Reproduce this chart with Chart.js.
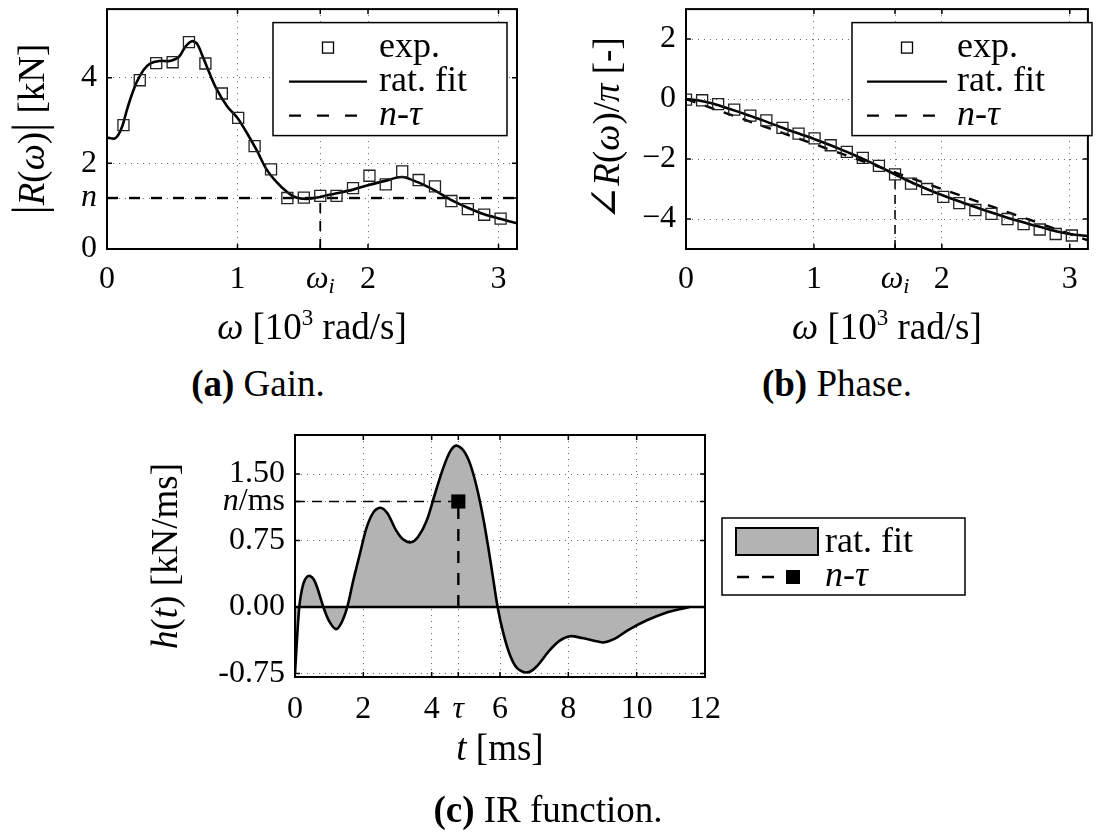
<!DOCTYPE html>
<html lang="en">
<head>
<meta charset="UTF-8">
<title>Gain, phase and IR function</title>
<script src="https://cdn.jsdelivr.net/npm/chart.js@4.4.0/dist/chart.umd.min.js"></script>
<style>
  html, body { margin: 0; padding: 0; background: #fff; }
  body { position: relative; width: 1097px; height: 833px; overflow: hidden; font-family: "Liberation Serif", "Times New Roman", serif; }
  canvas { position: absolute; }
  .cap { position: absolute; font-size: 37px; line-height: 1; white-space: nowrap; transform: translateX(-50%); color: #000; }
</style>
</head>
<body>
<canvas id="gain" width="560" height="350" style="left:0;top:0"></canvas>
<canvas id="phase" width="537" height="350" style="left:560px;top:0"></canvas>
<canvas id="ir" width="900" height="380" style="left:100px;top:420px"></canvas>
<div class="cap" style="left:258px;top:365px"><b>(a)</b> Gain.</div>
<div class="cap" style="left:837px;top:365px"><b>(b)</b> Phase.</div>
<div class="cap" style="left:548px;top:791px"><b>(c)</b> IR function.</div>

<script>
// n-tau model parameters
const omegaI = 1.634;   // 10^3 rad/s
const nGain = 1.19;     // kN
const tau = 4.78;       // ms
const omegaMax = 3.1416;

// measured frequency response
const expOmegaGain = [0.126, 0.251, 0.377, 0.503, 0.628, 0.754, 0.880, 1.005, 1.131, 1.257, 1.382, 1.508,
                      1.634, 1.759, 1.885, 2.011, 2.136, 2.262, 2.388, 2.513, 2.639, 2.765, 2.890, 3.016];
const expGain = [2.89, 3.94, 4.34, 4.36, 4.83, 4.33, 3.63, 3.06, 2.40, 1.86, 1.19, 1.20,
                 1.24, 1.24, 1.42, 1.71, 1.51, 1.81, 1.61, 1.46, 1.12, 0.93, 0.80, 0.71];
const expOmegaPhase = [0, 0.126, 0.251, 0.377, 0.503, 0.628, 0.754, 0.880, 1.005, 1.131, 1.257, 1.382, 1.508,
                       1.634, 1.759, 1.885, 2.011, 2.136, 2.262, 2.388, 2.513, 2.639, 2.765, 2.890, 3.016];
const expPhase = [-0.02, -0.04, -0.17, -0.35, -0.55, -0.71, -0.96, -1.15, -1.31, -1.54, -1.76, -1.96, -2.23,
                  -2.51, -2.82, -3.00, -3.26, -3.47, -3.70, -3.83, -4.00, -4.17, -4.35, -4.50, -4.55];

// rational fit
const fitOmegaGain = [0, 0.06, 0.09, 0.12, 0.15, 0.19, 0.23, 0.28, 0.33, 0.40, 0.48, 0.55, 0.60, 0.65, 0.69, 0.73,
                      0.77, 0.83, 0.92, 1.00, 1.07, 1.15, 1.22, 1.30, 1.38, 1.45, 1.53, 1.61, 1.71, 1.76, 1.88,
                      2.00, 2.13, 2.26, 2.38, 2.51, 2.64, 2.76, 2.89, 3.02, 3.1416];
const fitGain = [2.60, 2.58, 2.68, 2.89, 3.22, 3.60, 3.91, 4.18, 4.33, 4.39, 4.39, 4.48, 4.72, 4.85, 4.79, 4.52,
                 4.22, 3.79, 3.33, 3.06, 2.72, 2.29, 1.87, 1.56, 1.33, 1.20, 1.17, 1.20, 1.27, 1.30, 1.38,
                 1.49, 1.59, 1.68, 1.56, 1.37, 1.14, 0.97, 0.81, 0.70, 0.60];
const fitOmegaPhase = [0, 0.1, 0.2, 0.3, 0.4, 0.5, 0.6, 0.7, 0.8, 0.9, 1.0, 1.1, 1.2, 1.3, 1.4, 1.5, 1.6,
                       1.7, 1.8, 1.9, 2.0, 2.1, 2.2, 2.3, 2.4, 2.5, 2.6, 2.7, 2.8, 2.9, 3.0, 3.1416];
const fitPhase = [0, -0.05, -0.14, -0.27, -0.41, -0.56, -0.71, -0.87, -1.03, -1.18, -1.33, -1.49, -1.66, -1.84,
                  -2.03, -2.23, -2.44, -2.65, -2.85, -3.03, -3.20, -3.36, -3.51, -3.66, -3.80, -3.94, -4.07,
                  -4.19, -4.30, -4.42, -4.50, -4.57];
const ntauOmegaPhase = [0, 3.1416];
const ntauPhase = [0, -4.71];

// impulse response of the rational fit
const irTime = [0, 0.05, 0.10, 0.15, 0.25, 0.35, 0.44, 0.55, 0.65, 0.83, 1.00, 1.20, 1.37, 1.53, 1.70, 1.90,
                2.10, 2.30, 2.49, 2.70, 2.95, 3.17, 3.39, 3.60, 3.85, 4.10, 4.35, 4.55, 4.72, 4.92, 5.12, 5.32,
                5.52, 5.72, 5.93, 6.10, 6.30, 6.50, 6.78, 7.05, 7.45, 7.75, 8.05, 8.40, 8.75, 9.02, 9.35, 9.75,
                10.30, 10.90, 11.25, 11.55];
const irFit = [-0.75, -0.42, -0.12, 0.08, 0.27, 0.34, 0.35, 0.31, 0.22, 0.00, -0.16, -0.25, -0.17, 0.00, 0.29, 0.60,
               0.90, 1.07, 1.12, 1.06, 0.87, 0.76, 0.73, 0.79, 0.97, 1.28, 1.58, 1.76, 1.82, 1.77, 1.62, 1.35,
               0.98, 0.52, 0.00, -0.30, -0.55, -0.69, -0.74, -0.68, -0.49, -0.38, -0.33, -0.35, -0.38, -0.40, -0.36, -0.26,
               -0.15, -0.06, -0.025, 0];

// tick values
const gainXTicks = [0, 1, omegaI, 2, 3];
const gainYTicks = [0, nGain, 2, 4];
const phaseXTicks = [0, 1, omegaI, 2, 3];
const phaseYTicks = [-4, -2, 0, 2];
const irXTicks = [0, 2, 4, tau, 6, 8, 10, 12];
const irYTicks = [-0.75, 0, 0.75, nGain, 1.5];

const SERIF = '"Liberation Serif", "Times New Roman", serif';
const TICK = 32, TITLE = 37, LEG = 36;
const f = (size, style) => (style ? style + ' ' : '') + size + 'px ' + SERIF;
const pts = (xs, ys) => xs.map((x, i) => ({ x: x, y: ys[i] }));

function drawRich(ctx, runs, x, y, align) {
  let w = 0;
  runs.forEach(r => { ctx.font = r.f; w += ctx.measureText(r.t).width; });
  let cx = align === 'center' ? x - w / 2 : align === 'right' ? x - w : x;
  ctx.textAlign = 'left';
  runs.forEach(r => {
    ctx.font = r.f;
    ctx.fillText(r.t, cx, y + (r.dy || 0));
    cx += ctx.measureText(r.t).width;
  });
}

function drawLegend(ctx, L) {
  ctx.fillStyle = '#fff';
  ctx.fillRect(L.x, L.y, L.w, L.h);
  ctx.strokeStyle = '#000';
  ctx.lineWidth = 1.5;
  ctx.setLineDash([]);
  ctx.strokeRect(L.x, L.y, L.w, L.h);
  L.items.forEach((it, i) => {
    const cy = L.y + L.rows[i];
    const s = it.sample || L.sample;
    const x0 = L.x + s[0], x1 = L.x + s[1], xm = (x0 + x1) / 2;
    ctx.save();
    ctx.strokeStyle = '#000';
    ctx.fillStyle = '#000';
    if (it.kind === 'square') {
      ctx.lineWidth = 1.3;
      ctx.strokeRect(xm - 5.5, cy - 5.5, 11, 11);
    } else if (it.kind === 'line' || it.kind === 'dash') {
      ctx.lineWidth = 2.4;
      ctx.setLineDash(it.kind === 'dash' ? [12, 16] : []);
      ctx.beginPath(); ctx.moveTo(x0, cy); ctx.lineTo(x1, cy); ctx.stroke();
    } else if (it.kind === 'patch') {
      ctx.fillStyle = '#b3b3b3';
      ctx.fillRect(x0, cy - 15, x1 - x0, 27);
      ctx.lineWidth = 2;
      ctx.strokeRect(x0, cy - 15, x1 - x0, 27);
    } else if (it.kind === 'dashsq') {
      ctx.lineWidth = 2.4;
      ctx.setLineDash([12, 13]);
      ctx.beginPath(); ctx.moveTo(x0, cy); ctx.lineTo(x1 - 24, cy); ctx.stroke();
      ctx.setLineDash([]);
      ctx.fillRect(x1 - 14, cy - 7, 14, 14);
    }
    ctx.restore();
    ctx.fillStyle = '#000';
    ctx.textBaseline = 'middle';
    drawRich(ctx, it.runs, L.x + L.text, cy, 'left');
  });
}

// box, inner tick marks, math labels, titles, legend
function decor(o) {
  return {
    id: 'decor',
    afterDraw(chart) {
      const { ctx, chartArea: a, scales: { x, y } } = chart;
      ctx.save();
      ctx.setLineDash([]);
      ctx.strokeStyle = '#000';
      ctx.lineWidth = 1.5;
      ctx.beginPath();
      x.ticks.forEach(t => {
        const p = x.getPixelForValue(t.value);
        ctx.moveTo(p, a.bottom); ctx.lineTo(p, a.bottom - 5);
        ctx.moveTo(p, a.top); ctx.lineTo(p, a.top + 5);
      });
      y.ticks.forEach(t => {
        const p = y.getPixelForValue(t.value);
        ctx.moveTo(a.left, p); ctx.lineTo(a.left + 5, p);
        ctx.moveTo(a.right, p); ctx.lineTo(a.right - 5, p);
      });
      ctx.stroke();
      ctx.lineWidth = 2;
      ctx.strokeRect(a.left, a.top, a.right - a.left, a.bottom - a.top);

      ctx.fillStyle = '#000';
      ctx.textBaseline = 'middle';
      const xp = x.options.ticks.padding, yp = y.options.ticks.padding;
      (o.xSpecial || []).forEach(s => drawRich(ctx, s.runs, x.getPixelForValue(s.value), x.top + xp + TICK * 0.6, 'center'));
      (o.ySpecial || []).forEach(s => drawRich(ctx, s.runs, y.right - yp, y.getPixelForValue(s.value), 'right'));

      ctx.textBaseline = 'alphabetic';
      drawRich(ctx, o.xTitle, (a.left + a.right) / 2, o.xTitleY, 'center');
      ctx.save();
      ctx.translate(o.yTitleX, (a.top + a.bottom) / 2);
      ctx.rotate(-Math.PI / 2);
      drawRich(ctx, o.yTitle, 0, 12, 'center');
      ctx.restore();

      if (o.legend) drawLegend(ctx, o.legend);
      ctx.restore();
    }
  };
}

function axis(min, max, ticks, fmt, size, isX, pad) {
  return {
    type: 'linear', min: min, max: max,
    afterBuildTicks: s => { s.ticks = ticks.map(v => ({ value: v })); },
    afterFit: s => {
      if (isX) s.height = size; else s.width = size;
      s.paddingTop = s.paddingBottom = s.paddingLeft = s.paddingRight = 0;
    },
    grid: { color: '#6a6a6a', lineWidth: 1, drawTicks: false },
    border: { display: false, dash: [1, 5] },
    ticks: { autoSkip: false, maxRotation: 0, padding: pad, color: '#000', font: { family: SERIF, size: TICK }, callback: fmt }
  };
}

function lineSet(label, data, width, dash, extra) {
  return Object.assign({
    type: 'line', label: label, data: data, showLine: true, borderColor: '#000', borderWidth: width,
    borderDash: dash, pointRadius: 0, pointHoverRadius: 0, fill: false, tension: 0
  }, extra || {});
}

function baseOptions(padding, scales) {
  return {
    responsive: false, animation: false, events: [],
    layout: { padding: padding },
    plugins: { legend: { display: false }, tooltip: { enabled: false } },
    scales: scales
  };
}

const omegaRuns = [{ t: 'ω', f: f(TICK, 'italic') }, { t: 'i', f: f(22, 'italic'), dy: 8 }];
const omegaTitle = [{ t: 'ω', f: f(TITLE, 'italic') }, { t: ' [10', f: f(TITLE) }, { t: '3', f: f(23), dy: -14 }, { t: ' rad/s]', f: f(TITLE) }];
const ntauRuns = [{ t: 'n', f: f(LEG, 'italic') }, { t: '-', f: f(LEG) }, { t: 'τ', f: f(LEG, 'italic') }];
const minus = v => (v < 0 ? '\u2212' + (-v) : String(v));

// (a) gain
new Chart(document.getElementById('gain'), {
  type: 'scatter',
  data: { datasets: [
    { label: 'exp.', data: pts(expOmegaGain, expGain), pointStyle: 'rect', pointRadius: 7.8,
      borderColor: '#222', borderWidth: 1.3, backgroundColor: 'rgba(0,0,0,0)' },
    lineSet('rat. fit', pts(fitOmegaGain, fitGain), 2.6, [], { tension: 0.3 }),
    lineSet('n-τ', pts([0, omegaMax], [nGain, nGain]), 2.4, [11, 11]),
    lineSet('ωi', pts([omegaI, omegaI], [0, nGain]), 1.8, [10, 8])
  ] },
  options: baseOptions({ top: 7, right: 43, left: 0, bottom: 0 }, {
    x: axis(0, omegaMax, gainXTicks, v => (v === omegaI ? '' : String(v)), 101, true, 11),
    y: axis(0, 5.6, gainYTicks, v => (v === nGain ? '' : String(v)), 107, false, 10)
  }),
  plugins: [decor({
    xSpecial: [{ value: omegaI, runs: omegaRuns }],
    ySpecial: [{ value: nGain, runs: [{ t: 'n', f: f(TICK, 'italic') }] }],
    xTitle: omegaTitle, xTitleY: 339,
    yTitleX: 32,
    yTitle: [{ t: '|', f: f(46) }, { t: 'R', f: f(TITLE, 'italic') }, { t: '(', f: f(TITLE) }, { t: 'ω', f: f(TITLE, 'italic') },
             { t: ')', f: f(TITLE) }, { t: '|', f: f(46) }, { t: ' [kN]', f: f(TITLE) }],
    legend: { x: 273, y: 22.6, w: 234, h: 113, rows: [25, 59, 93], sample: [16, 94], text: 106, items: [
      { kind: 'square', runs: [{ t: 'exp.', f: f(LEG) }] },
      { kind: 'line', runs: [{ t: 'rat. fit', f: f(LEG) }] },
      { kind: 'dash', sample: [16, 84], runs: ntauRuns }
    ] }
  })]
});

// (b) phase
new Chart(document.getElementById('phase'), {
  type: 'scatter',
  data: { datasets: [
    { label: 'exp.', data: pts(expOmegaPhase, expPhase), pointStyle: 'rect', pointRadius: 7.8,
      borderColor: '#222', borderWidth: 1.3, backgroundColor: 'rgba(0,0,0,0)' },
    lineSet('rat. fit', pts(fitOmegaPhase, fitPhase), 2.6, [], { tension: 0.3 }),
    lineSet('n-τ', pts(ntauOmegaPhase, ntauPhase), 2.4, [10, 10]),
    lineSet('ωi', pts([omegaI, omegaI], [-5, -2.51]), 1.5, [9, 6])
  ] },
  options: baseOptions({ top: 7, right: 2, left: 0, bottom: 0 }, {
    x: axis(0, omegaMax, phaseXTicks, v => (v === omegaI ? '' : String(v)), 101, true, 11),
    y: axis(-5, 3, phaseYTicks, minus, 126, false, 10)
  }),
  plugins: [decor({
    xSpecial: [{ value: omegaI, runs: omegaRuns }],
    xTitle: omegaTitle, xTitleY: 339,
    yTitleX: 47,
    yTitle: [{ t: '∠', f: '42px "DejaVu Serif", serif' }, { t: 'R', f: f(TITLE, 'italic') }, { t: '(', f: f(TITLE) },
             { t: 'ω', f: f(TITLE, 'italic') }, { t: ')', f: f(TITLE) }, { t: '/', f: f(TITLE) }, { t: 'π', f: f(TITLE, 'italic') },
             { t: ' [-]', f: f(TITLE) }],
    legend: { x: 292, y: 22.6, w: 240, h: 113, rows: [25, 59, 93], sample: [15, 95], text: 105, items: [
      { kind: 'square', runs: [{ t: 'exp.', f: f(LEG) }] },
      { kind: 'line', runs: [{ t: 'rat. fit', f: f(LEG) }] },
      { kind: 'dash', sample: [15, 85], runs: ntauRuns }
    ] }
  })]
});

// (c) impulse response
new Chart(document.getElementById('ir'), {
  type: 'scatter',
  data: { datasets: [
    { label: 'n-τ', data: pts([tau], [nGain]), pointStyle: 'rect', pointRadius: 10,
      borderColor: '#000', borderWidth: 0, backgroundColor: '#000' },
    lineSet('n-τ tau', pts([tau, tau], [0, nGain]), 2.4, [12, 10]),
    lineSet('n-τ n', pts([0, tau], [nGain, nGain]), 1.5, [10, 7]),
    lineSet('zero', pts([0, 12], [0, 0]), 2.6, []),
    lineSet('rat. fit', pts(irTime, irFit), 2.6, [], { tension: 0.3, fill: 'origin', backgroundColor: '#b3b3b3' })
  ] },
  options: baseOptions({ top: 15, right: 295, left: 0, bottom: 0 }, {
    x: axis(0, 12, irXTicks, v => (v === tau ? '' : String(v)), 123, true, 13),
    y: axis(-0.79, 1.94, irYTicks, v => (v === nGain ? '' : v.toFixed(2)), 195, false, 10)
  }),
  plugins: [decor({
    xSpecial: [{ value: tau, runs: [{ t: 'τ', f: f(TICK, 'italic') }] }],
    ySpecial: [{ value: nGain, runs: [{ t: 'n', f: f(TICK, 'italic') }, { t: '/ms', f: f(TICK) }] }],
    xTitle: [{ t: 't', f: f(TITLE, 'italic') }, { t: ' [ms]', f: f(TITLE) }], xTitleY: 340,
    yTitleX: 65,
    yTitle: [{ t: 'h', f: f(TITLE, 'italic') }, { t: '(', f: f(TITLE) }, { t: 't', f: f(TITLE, 'italic') },
             { t: ')', f: f(TITLE) }, { t: ' [kN/ms]', f: f(TITLE) }],
    legend: { x: 622, y: 98, w: 243, h: 77, rows: [25, 59], sample: [14, 96], text: 103, items: [
      { kind: 'patch', runs: [{ t: 'rat. fit', f: f(LEG) }] },
      { kind: 'dashsq', sample: [15, 78], runs: ntauRuns }
    ] }
  })]
});
</script>
</body>
</html>
